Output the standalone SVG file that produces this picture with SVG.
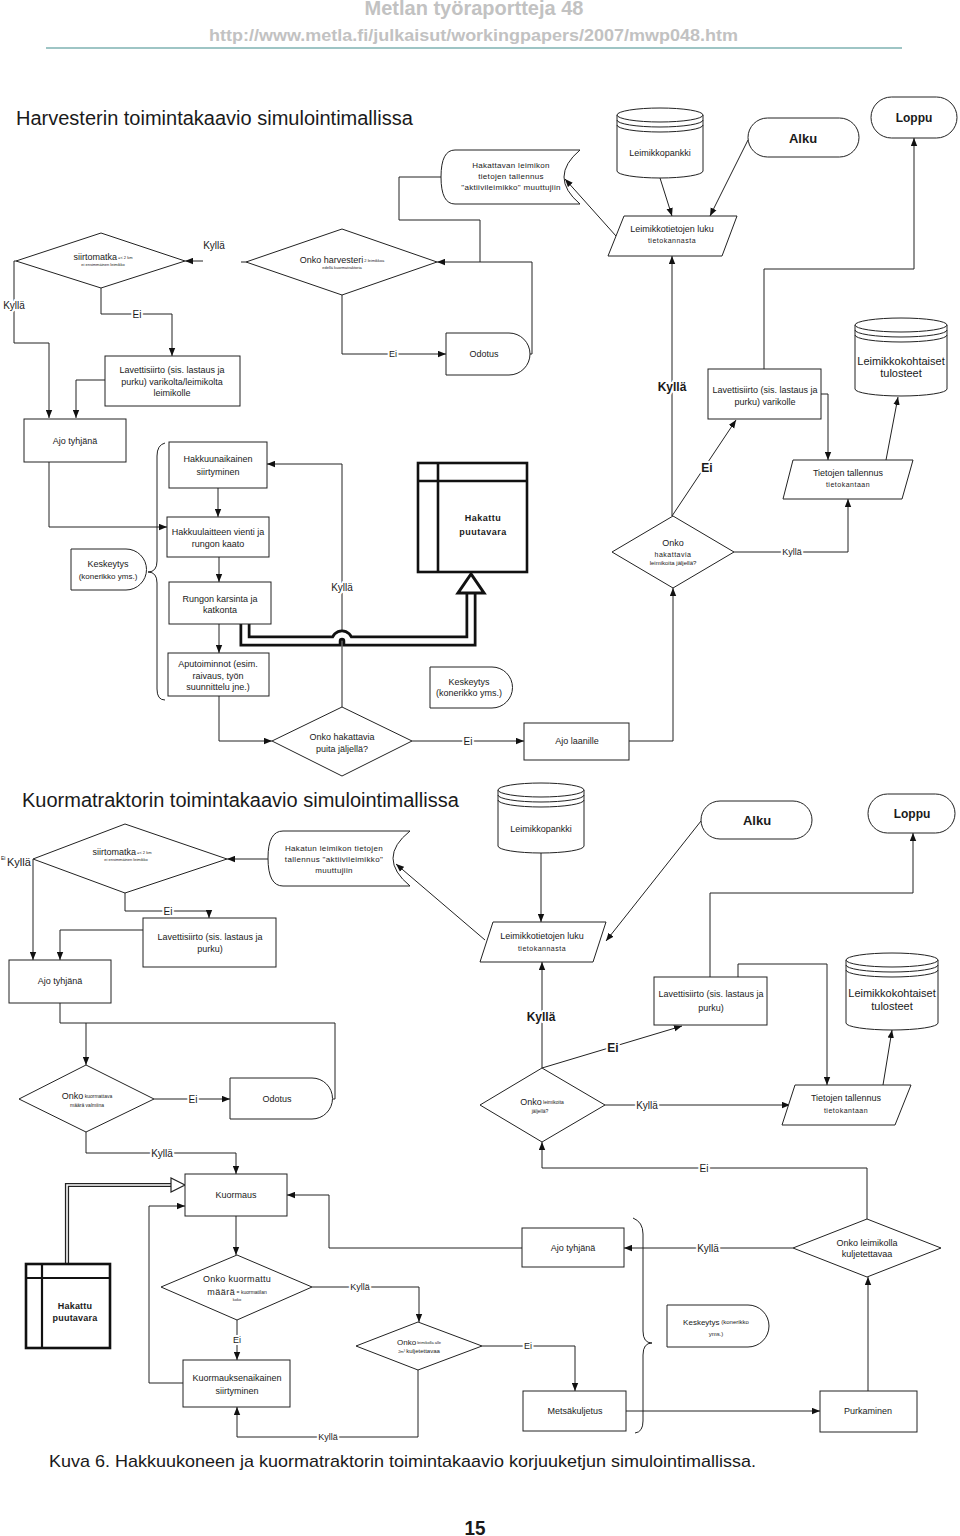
<svg xmlns="http://www.w3.org/2000/svg" width="960" height="1536" viewBox="0 0 960 1536" font-size="9">
<defs>
<style>
text{font-family:"Liberation Sans",Arial,sans-serif;fill:#1a1a1a}
.t{text-anchor:middle;dominant-baseline:central}
.b{font-weight:bold}
.s{fill:#fff;stroke:#222;stroke-width:1}
.k{fill:#fff;stroke:#111;stroke-width:2.6}
.c{fill:none;stroke:#222;stroke-width:1}
.a{marker-end:url(#ah)}
.lb{text-anchor:middle;dominant-baseline:central;paint-order:stroke;stroke:#fff;stroke-width:4px;stroke-linejoin:round}
.lbb{font-weight:bold}
.hdr{fill:#c2c2c2;font-weight:bold;text-anchor:middle}
</style>
<marker id="ah" viewBox="0 0 10 8" refX="10" refY="4" markerWidth="8" markerHeight="7" markerUnits="userSpaceOnUse" orient="auto"><path d="M0,0 L10,4 L0,8 z" fill="#111"/></marker>
</defs>
<rect width="960" height="1536" fill="#fff"/>

<g id="header">
<text class="hdr" x="474" y="15" font-size="20">Metlan työraportteja 48</text>
<text class="hdr" x="473.5" y="41" font-size="17" textLength="529" lengthAdjust="spacingAndGlyphs">http://www.metla.fi/julkaisut/workingpapers/2007/mwp048.htm</text>
<line x1="46" y1="48" x2="902" y2="48" stroke="#3f8c8c" stroke-width="1.2"/>
<text x="16" y="125" font-size="20">Harvesterin toimintakaavio simulointimallissa</text>
<text x="22" y="807" font-size="20">Kuormatraktorin toimintakaavio simulointimallissa</text>
</g>

<!-- ===== Connectors ===== -->
<g id="connectors" font-size="10">
<!-- harvester -->
<path class="c a" d="M748,140 L710,216"/>
<path class="c a" d="M660,178 L672,216"/>
<path class="c a" d="M616,236 L565,179"/>
<path class="c a" d="M441,177 H399 V220 H480 V262 H437"/>
<path class="c" d="M530,354 H532 V262 H480"/>
<path class="c" d="M246,262 H241"/>
<path class="c a" d="M203,261 H185"/>
<path class="c a" d="M16,261 H14 V343 H49 V418"/>
<path class="c a" d="M101,288 V314 H172 V356"/>
<path class="c a" d="M105,380 H76 V418"/>
<path class="c a" d="M49,462 V527 H167"/>
<path class="c a" d="M218,488 V517"/>
<path class="c a" d="M219,557 V582"/>
<path class="c a" d="M219,624 V653"/>
<path class="c a" d="M219,696 V741 H272"/>
<path class="c a" d="M342,707 V464 H267"/>
<path class="c a" d="M412,741 H524"/>
<path class="c a" d="M629,741 H673 V588"/>
<path class="c a" d="M672,516 V256"/>
<path class="c a" d="M672,516 L736,420"/>
<path class="c a" d="M734,552 H848 V499"/>
<path class="c a" d="M821,394 H828 V460"/>
<path class="c a" d="M886,460 L898,397"/>
<path class="c a" d="M764,369 V269 H914 V138"/>
<path class="c a" d="M342,295 V354 H446"/>
<!-- harvester double flow -->
<path d="M245,624 V641 H336 A6,6 0 0 1 348,641 H471 V593" fill="none" stroke="#111" stroke-width="11"/>
<path d="M245,623 V641 H336 A6,6 0 0 1 348,641 H471 V594" fill="none" stroke="#fff" stroke-width="5.5"/>
<polygon points="471,574 458,593 484,593" fill="#fff" stroke="#111" stroke-width="3"/>

<!-- kuormatraktori -->
<path class="c a" d="M701,821 L606,941"/>
<path class="c a" d="M541,853 V922"/>
<path class="c a" d="M485,940 L396,864"/>
<path class="c a" d="M268,859 H227"/>
<path class="c a" d="M33,859 V960"/>
<path class="c a" d="M125,893 V911 H209 V918"/>
<path class="c a" d="M143,930 H60 V960"/>
<path class="c" d="M60,1003 V1023 H86"/>
<path class="c a" d="M333,1099 H335 V1023 H86 V1065"/>
<path class="c a" d="M154,1099 H230"/>
<path class="c a" d="M86,1132 V1153 H236 V1174"/>
<path class="c a" d="M236,1216 V1255"/>
<path class="c a" d="M312,1287 H419 V1322"/>
<path class="c a" d="M237,1320 V1360"/>
<path class="c a" d="M183,1383 H149 V1206 H185"/>
<path class="c a" d="M418,1370 V1437 H237 V1407"/>
<path class="c a" d="M482,1346 H575 V1391"/>
<path class="c a" d="M626,1411 H820"/>
<path class="c a" d="M868,1391 V1277"/>
<path class="c a" d="M793,1248 H624"/>
<path class="c a" d="M522,1248 H329 V1195 H287"/>
<path class="c a" d="M867,1219 V1168 H542 V1142"/>
<path class="c a" d="M605,1105 H790"/>
<path class="c a" d="M542,1068 V962"/>
<path class="c a" d="M542,1068 L682,1026"/>
<path class="c a" d="M738,977 V964 H827 V1085"/>
<path class="c a" d="M710,977 V893 H913 V833"/>
<path class="c a" d="M883,1085 L892,1030"/>
<!-- kuorma double flow -->
<path d="M67,1264 V1185 H172" fill="none" stroke="#222" stroke-width="4.2"/>
<path d="M67,1263 V1185 H172" fill="none" stroke="#fff" stroke-width="1.6"/>
<polygon points="185,1185 171,1178 171,1192" fill="#fff" stroke="#222" stroke-width="1.2"/>

<!-- labels -->
<text class="lb" x="214" y="245">Kyllä</text>
<text class="lb" x="14" y="305">Kyllä</text>
<text class="lb" x="137" y="314">Ei</text>
<text class="lb" x="393" y="354" font-size="9">Ei</text>
<text class="lb" x="342" y="587">Kyllä</text>
<text class="lb" x="468" y="741">Ei</text>
<text class="lb lbb" x="672" y="387" font-size="12">Kyllä</text>
<text class="lb lbb" x="707" y="468" font-size="12">Ei</text>
<text class="lb" x="792" y="552" font-size="9">Kyllä</text>

<text x="7" y="866" font-size="11">Kyllä</text>
<text x="1" y="860" font-size="5">Ei</text>
<text class="lb" x="168" y="911">Ei</text>
<text class="lb" x="193" y="1099">Ei</text>
<text class="lb" x="162" y="1153">Kyllä</text>
<text class="lb" x="360" y="1287" font-size="9">Kyllä</text>
<text class="lb" x="237" y="1340" font-size="9">Ei</text>
<text class="lb" x="328" y="1437" font-size="9">Kyllä</text>
<text class="lb" x="528" y="1346" font-size="9">Ei</text>
<text class="lb" x="708" y="1248">Kyllä</text>
<text class="lb" x="704" y="1168">Ei</text>
<text class="lb" x="647" y="1105">Kyllä</text>
<text class="lb lbb" x="541" y="1017" font-size="12">Kyllä</text>
<text class="lb lbb" x="613" y="1048" font-size="12">Ei</text>
</g>

<!-- ===== Harvester nodes ===== -->
<g id="h-hakattava">
<path class="s" d="M455,150 H580 Q548,177 580,204 H455 Q441,204 441,177 Q441,150 455,150 Z"/>
<text class="t" x="511" y="165" font-size="8" letter-spacing="0.3">Hakattavan leimikon</text>
<text class="t" x="511" y="176" font-size="8" letter-spacing="0.3">tietojen tallennus</text>
<text class="t" x="511" y="187" font-size="8" letter-spacing="0.3">"aktiivileimikko" muuttujiin</text>
</g>
<g id="h-leimikkopankki">
<path class="s" d="M617,115 V171 A43,7 0 0 0 703,171 V115"/>
<ellipse class="s" cx="660" cy="115" rx="43" ry="7"/>
<path class="c" d="M617,120 A43,7 0 0 0 703,120 M617,125 A43,7 0 0 0 703,125"/>
<text class="t" x="660" y="153">Leimikkopankki</text>
</g>
<g id="h-alku">
<rect class="s" x="748" y="118" width="111" height="39" rx="19.5"/>
<text class="t b" x="803" y="138" font-size="13">Alku</text>
</g>
<g id="h-loppu">
<rect class="s" x="871" y="97" width="86" height="41" rx="20.5"/>
<text class="t b" x="914" y="118" font-size="12">Loppu</text>
</g>
<g id="h-luku">
<polygon class="s" points="624,216 737,216 722,256 608,256"/>
<text class="t" x="672" y="229">Leimikkotietojen luku</text>
<text class="t" x="672" y="240" font-size="7" letter-spacing="0.5">tietokannasta</text>
</g>
<g id="h-siirtomatka">
<polygon class="s" points="16,261 101,233 185,261 101,288"/>
<text class="t" x="103" y="257"><tspan font-size="9">siirtomatka</tspan><tspan font-size="4"> =&lt; 2 km</tspan></text>
<text class="t" x="103" y="264" font-size="4">ei ensimmäinen leimikko</text>
</g>
<g id="h-onkoharv">
<polygon class="s" points="246,262 342,229 437,262 342,295"/>
<text class="t" x="342" y="260"><tspan font-size="9">Onko harvesteri</tspan><tspan font-size="4"> 2 leimikkoa</tspan></text>
<text class="t" x="342" y="267" font-size="4">edellä kuormatraktoria</text>
</g>
<g id="h-lavettisiirto1">
<rect class="s" x="105" y="356" width="135" height="50"/>
<text class="t" x="172" y="370">Lavettisiirto (sis. lastaus ja</text>
<text class="t" x="172" y="382">purku) varikolta/leimikolta</text>
<text class="t" x="172" y="393">leimikolle</text>
</g>
<g id="h-odotus">
<path class="s" d="M446,333 H509 A21,21 0 0 1 509,375 H446 Z"/>
<text class="t" x="484" y="354">Odotus</text>
</g>
<g id="h-lavvar">
<rect class="s" x="708" y="369" width="113" height="50"/>
<text class="t" x="765" y="390">Lavettisiirto (sis. lastaus ja</text>
<text class="t" x="765" y="402">purku) varikolle</text>
</g>
<g id="h-tulosteet">
<path class="s" d="M855,325 V389 A46,7 0 0 0 947,389 V325"/>
<ellipse class="s" cx="901" cy="325" rx="46" ry="7"/>
<path class="c" d="M855,330 A46,7 0 0 0 947,330 M855,335 A46,7 0 0 0 947,335"/>
<text class="t" x="901" y="361" font-size="11">Leimikkokohtaiset</text>
<text class="t" x="901" y="373" font-size="11">tulosteet</text>
</g>
<g id="h-ajo">
<rect class="s" x="24" y="419" width="102" height="43"/>
<text class="t" x="75" y="441">Ajo tyhjänä</text>
</g>
<g id="h-hakkuunaikainen">
<rect class="s" x="169" y="442" width="98" height="46"/>
<text class="t" x="218" y="459">Hakkuunaikainen</text>
<text class="t" x="218" y="472">siirtyminen</text>
</g>
<g id="h-tietojen">
<polygon class="s" points="793,460 913,460 902,499 783,499"/>
<text class="t" x="848" y="473">Tietojen tallennus</text>
<text class="t" x="848" y="484" font-size="7" letter-spacing="0.5">tietokantaan</text>
</g>
<g id="h-hakattu">
<rect class="k" x="418" y="463" width="109" height="109"/>
<line x1="438" y1="463" x2="438" y2="572" stroke="#111" stroke-width="2.6"/>
<line x1="418" y1="481" x2="527" y2="481" stroke="#111" stroke-width="2.6"/>
<text class="t b" x="483" y="518" letter-spacing="0.5">Hakattu</text>
<text class="t b" x="483" y="532" letter-spacing="0.5">puutavara</text>
</g>
<g id="h-brace">
<path class="c" d="M165,443 Q157,445 157,456 L157,561 Q157,572 148,572 Q157,572 157,583 L157,689 Q157,700 165,700"/>
</g>
<g id="h-hakkuulaitteen">
<rect class="s" x="167" y="517" width="102" height="40"/>
<text class="t" x="218" y="532">Hakkuulaitteen vienti ja</text>
<text class="t" x="218" y="544">rungon kaato</text>
</g>
<g id="h-onkoleim">
<polygon class="s" points="612,552 673,516 734,552 673,588"/>
<text class="t" x="673" y="543">Onko</text>
<text class="t" x="673" y="554" font-size="7" letter-spacing="0.5">hakattavia</text>
<text class="t" x="673" y="563" font-size="6">leimikoita jäljellä?</text>
</g>
<g id="h-keskeytys1">
<path class="s" d="M71,549 H126 A20.5,20.5 0 0 1 126,590 H71 Z"/>
<text class="t" x="108" y="564">Keskeytys</text>
<text class="t" x="108" y="576" font-size="8">(konerikko yms.)</text>
</g>
<g id="h-rungon">
<rect class="s" x="169" y="582" width="102" height="42"/>
<text class="t" x="220" y="599">Rungon karsinta ja</text>
<text class="t" x="220" y="610">katkonta</text>
</g>
<g id="h-apu">
<rect class="s" x="168" y="653" width="101" height="43"/>
<text class="t" x="218" y="664">Aputoiminnot (esim.</text>
<text class="t" x="218" y="676">raivaus, työn</text>
<text class="t" x="218" y="687">suunnittelu jne.)</text>
</g>
<g id="h-keskeytys2">
<path class="s" d="M430,667 H492 A20.5,20.5 0 0 1 492,708 H430 Z"/>
<text class="t" x="469" y="682">Keskeytys</text>
<text class="t" x="469" y="693">(konerikko yms.)</text>
</g>
<g id="h-onkopuita">
<polygon class="s" points="272,741 342,707 412,741 342,776"/>
<text class="t" x="342" y="737">Onko hakattavia</text>
<text class="t" x="342" y="749">puita jäljellä?</text>
</g>
<g id="h-ajolaanille">
<rect class="s" x="524" y="723" width="105" height="37"/>
<text class="t" x="577" y="741">Ajo laanille</text>
</g>

<!-- ===== Kuormatraktori nodes ===== -->
<g id="k-leimikkopankki">
<path class="s" d="M498,790 V846 A43,7 0 0 0 584,846 V790"/>
<ellipse class="s" cx="541" cy="790" rx="43" ry="7"/>
<path class="c" d="M498,795 A43,7 0 0 0 584,795 M498,800 A43,7 0 0 0 584,800"/>
<text class="t" x="541" y="829">Leimikkopankki</text>
</g>
<g id="k-alku">
<rect class="s" x="701" y="801" width="111" height="38" rx="19"/>
<text class="t b" x="757" y="820" font-size="13">Alku</text>
</g>
<g id="k-loppu">
<rect class="s" x="868" y="794" width="87" height="39" rx="19.5"/>
<text class="t b" x="912" y="814" font-size="12">Loppu</text>
</g>
<g id="k-hakatun">
<path class="s" d="M283,831 H410 Q376,858 410,886 H283 Q268,886 268,858 Q268,831 283,831 Z"/>
<text class="t" x="334" y="848" font-size="8" letter-spacing="0.35">Hakatun leimikon tietojen</text>
<text class="t" x="334" y="859" font-size="8" letter-spacing="0.35">tallennus "aktiivileimikko"</text>
<text class="t" x="334" y="870" font-size="8" letter-spacing="0.35">muuttujiin</text>
</g>
<g id="k-siirtomatka">
<polygon class="s" points="33,859 125,824 227,859 125,893"/>
<text class="t" x="122" y="852"><tspan font-size="9">siirtomatka</tspan><tspan font-size="4"> =&lt; 2 km</tspan></text>
<text class="t" x="126" y="859" font-size="4">ei ensimmäinen leimikko</text>
</g>
<g id="k-lavettisiirto1">
<rect class="s" x="143" y="918" width="133" height="49"/>
<text class="t" x="210" y="937">Lavettisiirto (sis. lastaus ja</text>
<text class="t" x="210" y="949">purku)</text>
</g>
<g id="k-luku">
<polygon class="s" points="493,922 606,922 593,962 480,962"/>
<text class="t" x="542" y="936">Leimikkotietojen luku</text>
<text class="t" x="542" y="948" font-size="7" letter-spacing="0.5">tietokannasta</text>
</g>
<g id="k-ajo">
<rect class="s" x="9" y="960" width="102" height="43"/>
<text class="t" x="60" y="981">Ajo tyhjänä</text>
</g>
<g id="k-tulosteet">
<path class="s" d="M846,960 V1023 A46,7 0 0 0 938,1023 V960"/>
<ellipse class="s" cx="892" cy="960" rx="46" ry="7"/>
<path class="c" d="M846,965 A46,7 0 0 0 938,965 M846,970 A46,7 0 0 0 938,970"/>
<text class="t" x="892" y="993" font-size="11">Leimikkokohtaiset</text>
<text class="t" x="892" y="1006" font-size="11">tulosteet</text>
</g>
<g id="k-lavettisiirto2">
<rect class="s" x="654" y="977" width="113" height="48"/>
<text class="t" x="711" y="994">Lavettisiirto (sis. lastaus ja</text>
<text class="t" x="711" y="1008">purku)</text>
</g>
<g id="k-onkokuormattava">
<polygon class="s" points="19,1099 86,1065 154,1099 86,1132"/>
<text class="t" x="87" y="1096"><tspan font-size="9">Onko</tspan><tspan font-size="5"> kuormattava</tspan></text>
<text class="t" x="87" y="1105" font-size="5">määrä valmiina</text>
</g>
<g id="k-odotus">
<path class="s" d="M230,1078 H312 A20.5,20.5 0 0 1 312,1119 H230 Z"/>
<text class="t" x="277" y="1099">Odotus</text>
</g>
<g id="k-onkoleimikoita">
<polygon class="s" points="480,1105 542,1068 605,1105 542,1142"/>
<text class="t" x="542" y="1102"><tspan font-size="9">Onko</tspan><tspan font-size="5"> leimikoita</tspan></text>
<text class="t" x="540" y="1111" font-size="5">jäljellä?</text>
</g>
<g id="k-tietojen">
<polygon class="s" points="795,1085 911,1085 895,1125 782,1125"/>
<text class="t" x="846" y="1098">Tietojen tallennus</text>
<text class="t" x="846" y="1110" font-size="7" letter-spacing="0.5">tietokantaan</text>
</g>
<g id="k-kuormaus">
<rect class="s" x="185" y="1174" width="102" height="42"/>
<text class="t" x="236" y="1195">Kuormaus</text>
</g>
<g id="k-ajo2">
<rect class="s" x="522" y="1228" width="102" height="39"/>
<text class="t" x="573" y="1248">Ajo tyhjänä</text>
</g>
<g id="k-onkokuljetettavaa">
<polygon class="s" points="793,1248 867,1219 941,1248 867,1277"/>
<text class="t" x="867" y="1243">Onko leimikolla</text>
<text class="t" x="867" y="1254">kuljetettavaa</text>
</g>
<g id="k-hakattu">
<rect class="k" x="26" y="1264" width="84" height="84" stroke-width="2.2"/>
<line x1="42" y1="1264" x2="42" y2="1348" stroke="#111" stroke-width="2.2"/>
<line x1="26" y1="1278" x2="110" y2="1278" stroke="#111" stroke-width="2.2"/>
<text class="t b" x="75" y="1306" letter-spacing="0.2">Hakattu</text>
<text class="t b" x="75" y="1318" letter-spacing="0.2">puutavara</text>
</g>
<g id="k-onkokuormattu">
<polygon class="s" points="161,1287 237,1255 312,1287 237,1320"/>
<text class="t" x="237" y="1279" letter-spacing="0.3">Onko kuormattu</text>
<text class="t" x="237" y="1292"><tspan font-size="9" letter-spacing="0.5">määrä</tspan><tspan font-size="5"> = kuormatilan</tspan></text>
<text class="t" x="237" y="1299" font-size="4">koko</text>
</g>
<g id="k-keskeytys">
<path class="s" d="M667,1305 H748 A21,21 0 0 1 748,1347 H667 Z"/>
<text class="t" x="716" y="1322"><tspan font-size="8">Keskeytys</tspan><tspan font-size="6"> (konerikko</tspan></text>
<text class="t" x="716" y="1334" font-size="6">yms.)</text>
</g>
<g id="k-onkoalle">
<polygon class="s" points="356,1346 418,1322 482,1346 418,1370"/>
<text class="t" x="419" y="1342"><tspan font-size="8">Onko</tspan><tspan font-size="4"> leimikolla alle</tspan></text>
<text class="t" x="419" y="1351"><tspan font-size="4">2m³ </tspan><tspan font-size="6">kuljetettavaa</tspan></text>
</g>
<g id="k-kuormauksen">
<rect class="s" x="183" y="1360" width="107" height="47"/>
<text class="t" x="237" y="1378">Kuormauksenaikainen</text>
<text class="t" x="237" y="1391">siirtyminen</text>
</g>
<g id="k-metsa">
<rect class="s" x="523" y="1391" width="103" height="40"/>
<text class="t" x="575" y="1411">Metsäkuljetus</text>
</g>
<g id="k-purkaminen">
<rect class="s" x="820" y="1391" width="97" height="41"/>
<text class="t" x="868" y="1411">Purkaminen</text>
</g>
<g id="k-brace">
<path class="c" d="M633,1218 Q643,1222 643,1234 L643,1331 Q643,1343 652,1343 Q643,1343 643,1355 L643,1421 Q643,1432 635,1433"/>
</g>

<g id="footer">
<text x="49" y="1467" font-size="17" textLength="707" lengthAdjust="spacingAndGlyphs">Kuva 6. Hakkuukoneen ja kuormatraktorin toimintakaavio korjuuketjun simulointimallissa.</text>
<text x="475" y="1535" font-size="20" font-weight="bold" text-anchor="middle" textLength="21" lengthAdjust="spacingAndGlyphs">15</text>
</g>
</svg>
